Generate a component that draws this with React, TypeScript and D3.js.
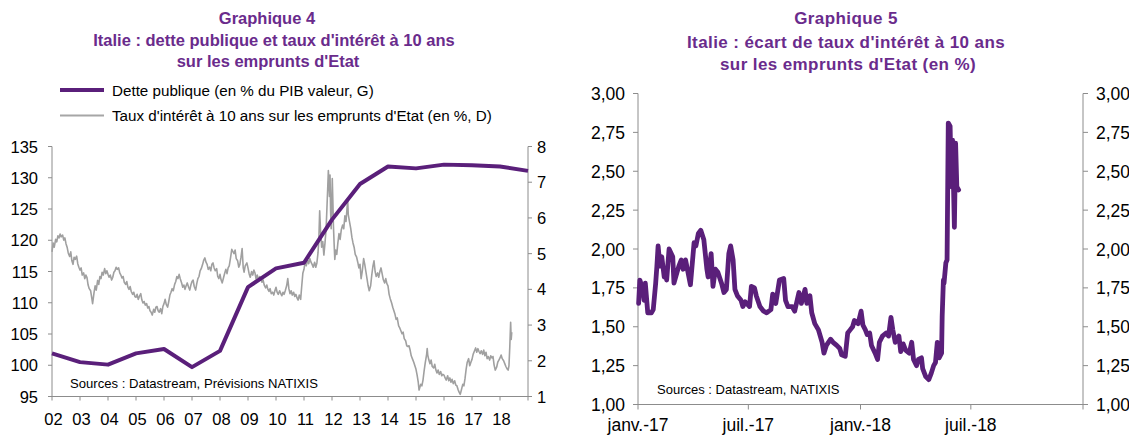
import React from 'react';
import * as d3 from 'd3';

// Graphique 4 : dette publique (G) et taux 10 ans (D)
const debtYears = [2002, 2003, 2004, 2005, 2006, 2007, 2008, 2009, 2010, 2011, 2012, 2013, 2014, 2015, 2016, 2017, 2018, 2019];
const debtValues = [101.9, 100.5, 100.1, 101.9, 102.6, 99.7, 102.3, 112.5, 115.5, 116.4, 123.3, 129.0, 131.8, 131.5, 132.1, 132.0, 131.8, 131.1];

// [année décimale, taux %]
const rateObs: [number, number][] = [
  [2002.00, 5.05], [2002.04, 5.30], [2002.08, 5.18], [2002.13, 5.40], [2002.17, 5.33], [2002.21, 5.50],
  [2002.25, 5.44], [2002.29, 5.55], [2002.33, 5.47], [2002.38, 5.52], [2002.42, 5.38], [2002.46, 5.44],
  [2002.50, 5.28], [2002.54, 5.18], [2002.58, 5.02], [2002.63, 4.92], [2002.67, 5.05], [2002.71, 4.80],
  [2002.75, 4.70], [2002.79, 4.90], [2002.83, 4.84], [2002.88, 4.93], [2002.92, 4.72], [2002.96, 4.62],
  [2003.00, 4.54], [2003.04, 4.60], [2003.08, 4.40], [2003.13, 4.46], [2003.17, 4.30], [2003.21, 4.40],
  [2003.25, 4.33], [2003.29, 4.12], [2003.33, 4.02], [2003.38, 3.96], [2003.42, 3.76], [2003.45, 3.60],
  [2003.50, 3.90], [2003.54, 4.10], [2003.58, 3.98], [2003.63, 4.25], [2003.67, 4.14], [2003.71, 4.36],
  [2003.75, 4.30], [2003.79, 4.48], [2003.83, 4.40], [2003.88, 4.58], [2003.92, 4.44], [2003.96, 4.52],
  [2004.00, 4.42], [2004.04, 4.34], [2004.08, 4.40], [2004.13, 4.26], [2004.17, 4.34], [2004.21, 4.48],
  [2004.25, 4.52], [2004.29, 4.62], [2004.33, 4.56], [2004.38, 4.60], [2004.42, 4.46], [2004.46, 4.40],
  [2004.50, 4.32], [2004.54, 4.36], [2004.58, 4.20], [2004.63, 4.14], [2004.67, 4.22], [2004.71, 4.06],
  [2004.75, 4.00], [2004.79, 4.08], [2004.83, 3.94], [2004.88, 3.86], [2004.92, 3.92], [2004.96, 3.80],
  [2005.00, 3.78], [2005.04, 3.86], [2005.08, 3.72], [2005.13, 3.82], [2005.17, 3.88], [2005.21, 3.70],
  [2005.25, 3.62], [2005.29, 3.66], [2005.33, 3.56], [2005.38, 3.60], [2005.42, 3.48], [2005.46, 3.52],
  [2005.50, 3.40], [2005.54, 3.36], [2005.58, 3.28], [2005.63, 3.44], [2005.67, 3.36], [2005.71, 3.50],
  [2005.75, 3.52], [2005.79, 3.40], [2005.83, 3.36], [2005.88, 3.46], [2005.92, 3.32], [2005.96, 3.52],
  [2006.00, 3.60], [2006.04, 3.72], [2006.08, 3.58], [2006.13, 3.50], [2006.17, 3.66], [2006.21, 3.84],
  [2006.25, 3.92], [2006.29, 4.02], [2006.33, 3.96], [2006.38, 4.14], [2006.42, 4.22], [2006.46, 4.36],
  [2006.50, 4.30], [2006.54, 4.42], [2006.58, 4.30], [2006.63, 4.18], [2006.67, 4.06], [2006.71, 4.12],
  [2006.75, 4.00], [2006.79, 4.10], [2006.83, 4.18], [2006.88, 4.06], [2006.92, 3.98], [2006.96, 4.12],
  [2007.00, 4.22], [2007.04, 4.26], [2007.08, 4.08], [2007.13, 3.98], [2007.17, 4.16], [2007.21, 4.30],
  [2007.25, 4.36], [2007.29, 4.52], [2007.33, 4.58], [2007.38, 4.70], [2007.42, 4.82], [2007.46, 4.88],
  [2007.50, 4.76], [2007.54, 4.70], [2007.58, 4.56], [2007.63, 4.62], [2007.67, 4.52], [2007.71, 4.70],
  [2007.75, 4.74], [2007.79, 4.60], [2007.83, 4.52], [2007.88, 4.58], [2007.92, 4.36], [2007.96, 4.30],
  [2008.00, 4.42], [2008.04, 4.26], [2008.08, 4.18], [2008.13, 4.34], [2008.17, 4.46], [2008.21, 4.56],
  [2008.25, 4.44], [2008.29, 4.60], [2008.33, 4.66], [2008.38, 4.90], [2008.42, 5.12], [2008.46, 5.06],
  [2008.50, 5.00], [2008.54, 5.10], [2008.58, 4.86], [2008.63, 4.80], [2008.67, 4.62], [2008.71, 4.70],
  [2008.75, 4.90], [2008.79, 5.14], [2008.83, 4.60], [2008.86, 4.48], [2008.90, 4.66], [2008.96, 4.74],
  [2009.00, 4.60], [2009.04, 4.44], [2009.08, 4.34], [2009.13, 4.50], [2009.17, 4.40], [2009.21, 4.54],
  [2009.25, 4.46], [2009.29, 4.28], [2009.33, 4.40], [2009.38, 4.26], [2009.42, 4.36], [2009.46, 4.30],
  [2009.50, 4.20], [2009.54, 4.26], [2009.58, 4.12], [2009.63, 4.04], [2009.67, 4.12], [2009.71, 4.00],
  [2009.75, 3.94], [2009.79, 4.02], [2009.83, 3.88], [2009.88, 3.92], [2009.92, 3.84], [2009.96, 3.96],
  [2010.00, 4.06], [2010.04, 3.92], [2010.08, 3.86], [2010.13, 3.96], [2010.17, 3.88], [2010.21, 3.82],
  [2010.25, 3.92], [2010.29, 3.86], [2010.33, 3.96], [2010.38, 4.10], [2010.42, 4.30], [2010.46, 4.02],
  [2010.50, 3.88], [2010.54, 3.96], [2010.58, 3.84], [2010.63, 3.92], [2010.67, 3.80], [2010.71, 3.86],
  [2010.75, 3.76], [2010.79, 3.70], [2010.83, 3.84], [2010.88, 3.72], [2010.92, 4.10], [2010.96, 4.46],
  [2011.00, 4.56], [2011.04, 4.78], [2011.08, 4.66], [2011.13, 4.82], [2011.17, 4.72], [2011.21, 4.86],
  [2011.25, 4.76], [2011.29, 4.70], [2011.33, 4.62], [2011.38, 4.76], [2011.42, 4.62], [2011.46, 4.74],
  [2011.50, 5.02], [2011.53, 5.40], [2011.56, 6.20], [2011.59, 5.66], [2011.63, 5.18], [2011.67, 5.34],
  [2011.71, 4.96], [2011.75, 5.30], [2011.79, 5.70], [2011.82, 6.30], [2011.85, 6.90], [2011.87, 7.33],
  [2011.89, 7.00], [2011.91, 6.60], [2011.93, 7.20], [2011.95, 6.20], [2011.97, 5.70], [2011.99, 6.40],
  [2012.01, 7.10], [2012.03, 6.50], [2012.05, 5.80], [2012.08, 5.20], [2012.10, 4.84], [2012.13, 5.10],
  [2012.17, 4.98], [2012.21, 5.30], [2012.25, 5.56], [2012.29, 5.40], [2012.33, 5.66], [2012.38, 5.80],
  [2012.42, 5.70], [2012.46, 6.06], [2012.50, 5.90], [2012.54, 6.30], [2012.56, 6.52], [2012.58, 6.10],
  [2012.62, 5.92], [2012.67, 5.70], [2012.71, 5.46], [2012.75, 5.30], [2012.79, 5.18], [2012.83, 4.98],
  [2012.88, 4.90], [2012.92, 4.76], [2012.96, 4.60], [2013.00, 4.70], [2013.04, 4.30], [2013.08, 4.50],
  [2013.13, 4.86], [2013.17, 4.70], [2013.21, 4.50], [2013.25, 4.30], [2013.29, 4.10], [2013.33, 3.96],
  [2013.38, 4.10], [2013.42, 4.40], [2013.46, 4.64], [2013.50, 4.80], [2013.54, 4.50], [2013.58, 4.36],
  [2013.63, 4.46], [2013.67, 4.34], [2013.71, 4.50], [2013.75, 4.60], [2013.79, 4.44], [2013.83, 4.28],
  [2013.88, 4.18], [2013.92, 4.30], [2013.96, 4.16], [2014.00, 4.10], [2014.04, 3.86], [2014.08, 3.74],
  [2014.13, 3.62], [2014.17, 3.50], [2014.21, 3.40], [2014.25, 3.30], [2014.29, 3.16], [2014.33, 3.20],
  [2014.38, 2.98], [2014.42, 2.92], [2014.46, 2.84], [2014.50, 2.76], [2014.54, 2.80], [2014.58, 2.62],
  [2014.63, 2.56], [2014.67, 2.42], [2014.71, 2.40], [2014.75, 2.42], [2014.79, 2.30], [2014.83, 2.14],
  [2014.88, 2.04], [2014.92, 1.96], [2014.96, 1.86], [2015.00, 1.76], [2015.04, 1.60], [2015.08, 1.40],
  [2015.11, 1.18], [2015.13, 1.24], [2015.17, 1.34], [2015.21, 1.30], [2015.25, 1.46], [2015.29, 1.72],
  [2015.33, 1.94], [2015.38, 2.18], [2015.40, 2.34], [2015.42, 2.16], [2015.46, 2.02], [2015.50, 1.92],
  [2015.54, 2.02], [2015.58, 1.84], [2015.63, 1.80], [2015.67, 1.90], [2015.71, 1.74], [2015.75, 1.66],
  [2015.79, 1.74], [2015.83, 1.62], [2015.88, 1.70], [2015.92, 1.58], [2015.96, 1.62], [2016.00, 1.60],
  [2016.04, 1.52], [2016.08, 1.46], [2016.13, 1.58], [2016.17, 1.44], [2016.21, 1.52], [2016.25, 1.40],
  [2016.29, 1.48], [2016.33, 1.36], [2016.38, 1.44], [2016.42, 1.32], [2016.46, 1.30], [2016.50, 1.20],
  [2016.54, 1.12], [2016.58, 1.06], [2016.62, 1.18], [2016.67, 1.34], [2016.71, 1.30], [2016.75, 1.50],
  [2016.79, 1.76], [2016.83, 1.96], [2016.88, 2.06], [2016.92, 1.86], [2016.96, 1.96], [2017.00, 2.04],
  [2017.04, 2.18], [2017.08, 2.26], [2017.13, 2.36], [2017.17, 2.24], [2017.21, 2.34], [2017.25, 2.26],
  [2017.29, 2.20], [2017.33, 2.28], [2017.38, 2.18], [2017.42, 2.30], [2017.46, 2.14], [2017.50, 2.24],
  [2017.54, 2.06], [2017.58, 2.12], [2017.63, 2.02], [2017.67, 2.14], [2017.71, 2.08], [2017.75, 2.12],
  [2017.79, 1.88], [2017.83, 1.74], [2017.88, 1.82], [2017.92, 1.96], [2017.96, 2.02], [2018.00, 2.08],
  [2018.04, 2.16], [2018.08, 2.06], [2018.13, 2.00], [2018.17, 1.92], [2018.21, 1.84], [2018.25, 1.78],
  [2018.29, 1.74], [2018.32, 1.86], [2018.35, 2.40], [2018.38, 3.08], [2018.40, 2.60], [2018.42, 2.80],
];

const leftTicks = [95, 100, 105, 110, 115, 120, 125, 130, 135];
const rightTicks = [1, 2, 3, 4, 5, 6, 7, 8];
const yearTicks = [2002, 2003, 2004, 2005, 2006, 2007, 2008, 2009, 2010, 2011, 2012, 2013, 2014, 2015, 2016, 2017, 2018, 2019];
const yearLabels = ['02', '03', '04', '05', '06', '07', '08', '09', '10', '11', '12', '13', '14', '15', '16', '17', '18'];

// Graphique 5 : écart de taux 10 ans
const spreadObs: [string, number][] = [
  ['2017-01-02', 1.65], ['2017-01-04', 1.80], ['2017-01-09', 1.74], ['2017-01-11', 1.67], ['2017-01-13', 1.78],
  ['2017-01-17', 1.59], ['2017-01-23', 1.59], ['2017-01-26', 1.61], ['2017-01-30', 1.78], ['2017-02-01', 1.89],
  ['2017-02-03', 2.02], ['2017-02-06', 1.89], ['2017-02-09', 1.95], ['2017-02-13', 1.82], ['2017-02-15', 1.87],
  ['2017-02-17', 1.80], ['2017-02-21', 2.00], ['2017-02-27', 1.95], ['2017-03-01', 1.78], ['2017-03-06', 1.85],
  ['2017-03-09', 1.89], ['2017-03-13', 1.93], ['2017-03-16', 1.87], ['2017-03-20', 1.93], ['2017-03-24', 1.85],
  ['2017-03-28', 1.77], ['2017-04-03', 2.04], ['2017-04-06', 2.02], ['2017-04-10', 2.10], ['2017-04-14', 2.12],
  ['2017-04-19', 2.06], ['2017-04-24', 1.87], ['2017-04-26', 1.82], ['2017-05-01', 1.97], ['2017-05-04', 1.76],
  ['2017-05-08', 1.87], ['2017-05-12', 1.85], ['2017-05-18', 1.78], ['2017-05-22', 1.72], ['2017-05-26', 1.74],
  ['2017-05-30', 1.97], ['2017-06-02', 2.02], ['2017-06-06', 1.93], ['2017-06-09', 1.74], ['2017-06-13', 1.70],
  ['2017-06-19', 1.67], ['2017-06-22', 1.63], ['2017-06-26', 1.66], ['2017-07-03', 1.63], ['2017-07-06', 1.76],
  ['2017-07-11', 1.75], ['2017-07-14', 1.70], ['2017-07-20', 1.63], ['2017-07-26', 1.60], ['2017-07-31', 1.59],
  ['2017-08-07', 1.61], ['2017-08-10', 1.71], ['2017-08-15', 1.65], ['2017-08-21', 1.80], ['2017-08-28', 1.81],
  ['2017-08-31', 1.67], ['2017-09-04', 1.63], ['2017-09-11', 1.63], ['2017-09-15', 1.60], ['2017-09-22', 1.72],
  ['2017-09-26', 1.65], ['2017-10-02', 1.74], ['2017-10-05', 1.65], ['2017-10-10', 1.70], ['2017-10-13', 1.59],
  ['2017-10-18', 1.52], ['2017-10-24', 1.48], ['2017-10-30', 1.40], ['2017-11-02', 1.33], ['2017-11-06', 1.38],
  ['2017-11-13', 1.42], ['2017-11-17', 1.40], ['2017-11-23', 1.38], ['2017-11-28', 1.36], ['2017-12-01', 1.32],
  ['2017-12-07', 1.31], ['2017-12-11', 1.46], ['2017-12-15', 1.48], ['2017-12-19', 1.50], ['2017-12-22', 1.54],
  ['2017-12-28', 1.52], ['2018-01-02', 1.60], ['2018-01-05', 1.51], ['2018-01-09', 1.48], ['2018-01-12', 1.45],
  ['2018-01-16', 1.46], ['2018-01-19', 1.38], ['2018-01-25', 1.33], ['2018-01-29', 1.29], ['2018-02-01', 1.40],
  ['2018-02-06', 1.44], ['2018-02-12', 1.46], ['2018-02-16', 1.44], ['2018-02-20', 1.56], ['2018-02-23', 1.48],
  ['2018-02-27', 1.40], ['2018-03-05', 1.44], ['2018-03-08', 1.34], ['2018-03-12', 1.39], ['2018-03-16', 1.35],
  ['2018-03-22', 1.33], ['2018-03-26', 1.40], ['2018-03-29', 1.29], ['2018-04-03', 1.25], ['2018-04-06', 1.29],
  ['2018-04-11', 1.30], ['2018-04-13', 1.23], ['2018-04-18', 1.18], ['2018-04-23', 1.16], ['2018-04-27', 1.20],
  ['2018-05-01', 1.25], ['2018-05-04', 1.27], ['2018-05-07', 1.40], ['2018-05-10', 1.30], ['2018-05-14', 1.33],
  ['2018-05-15', 1.57], ['2018-05-17', 1.80], ['2018-05-18', 1.78], ['2018-05-21', 1.91], ['2018-05-23', 1.93],
  ['2018-05-25', 2.81], ['2018-05-28', 2.79], ['2018-05-30', 2.40], ['2018-06-01', 2.70], ['2018-06-04', 2.14],
  ['2018-06-05', 2.40], ['2018-06-06', 2.68], ['2018-06-08', 2.40], ['2018-06-11', 2.38],
];

const spreadTicks = [1, 1.25, 1.5, 1.75, 2, 2.25, 2.5, 2.75, 3];
const monthTicks = ['2017-01-01', '2017-07-01', '2018-01-01', '2018-07-01', '2019-01-01'];
const monthLabels = ['janv.-17', 'juil.-17', 'janv.-18', 'juil.-18'];

const purple = '#5a1f7a';
const titleColor = '#6a2b8c';
const axisColor = '#8c8c8c';
const font = '"Liberation Sans", Arial, sans-serif';

const fmt = (v: number) => v.toFixed(2).replace('.', ',');

const App = () => {
  // left chart
  let x1 = d3.scaleLinear().domain([2002, 2019]).range([52, 528]);
  let yL = d3.scaleLinear().domain([95, 135]).range([396.5, 146.5]);
  let yR = d3.scaleLinear().domain([1, 8]).range([396.5, 146.5]);

  let debtLine = d3.line<number>()
    .x((d, i) => x1(debtYears[i]))
    .y((d) => yL(d));
  let rateLine = d3.line<[number, number]>()
    .x((d) => x1(d[0]))
    .y((d) => yR(d[1]));

  // right chart
  let parse = d3.utcParse('%Y-%m-%d');
  let x2 = d3.scaleUtc().domain([parse('2017-01-01')!, parse('2019-01-01')!]).range([638, 1083]);
  let y2 = d3.scaleLinear().domain([1, 3]).range([404.5, 93.5]);
  let spreadLine = d3.line<[string, number]>()
    .x((d) => x2(parse(d[0])!))
    .y((d) => y2(d[1]));

  return (
    <div>
      <svg width={1129} height={435} style={{ position: 'absolute', left: 0, top: 0 }} fontFamily={font}>
        <rect width={1129} height={435} fill='#fff' />

        {/* ---- Graphique 4 ---- */}
        <g fill={titleColor} fontWeight='bold' fontSize={16.5} textAnchor='middle'>
          <text x={267} y={24}>Graphique 4</text>
          <text x={274} y={46}>Italie : dette publique et taux d'intérêt à 10 ans</text>
          <text x={268} y={67}>sur les emprunts d'Etat</text>
        </g>

        <g fontSize={15.2} fill='#000'>
          <line x1={60} x2={104} y1={90} y2={90} stroke={purple} strokeWidth={4} />
          <text x={112} y={95.5}>Dette publique (en % du PIB valeur, G)</text>
          <line x1={60} x2={104} y1={115.5} y2={115.5} stroke='#a6a6a6' strokeWidth={2} />
          <text x={112} y={121}>Taux d'intérêt à 10 ans sur les emprunts d'Etat (en %, D)</text>
        </g>

        <g stroke={axisColor} strokeWidth={1} fill='none'>
          <line x1={x1(2002)} x2={x1(2002)} y1={yL(135)} y2={yL(95)} />
          <line x1={x1(2019)} x2={x1(2019)} y1={yR(8)} y2={yR(1)} />
          <line x1={x1(2002)} x2={x1(2019)} y1={yL(95)} y2={yL(95)} />
          {leftTicks.map((t) => (
            <line key={'lt' + t} x1={x1(2002) - 4} x2={x1(2002)} y1={yL(t)} y2={yL(t)} />
          ))}
          {rightTicks.map((t) => (
            <line key={'rt' + t} x1={x1(2019)} x2={x1(2019) + 4} y1={yR(t)} y2={yR(t)} />
          ))}
          {yearTicks.map((t) => (
            <line key={'xt' + t} x1={x1(t)} x2={x1(t)} y1={yL(95)} y2={yL(95) + 4} />
          ))}
        </g>

        <g fontSize={16.5} fill='#000'>
          {leftTicks.map((t) => (
            <text key={'ll' + t} x={38} y={yL(t) + 6} textAnchor='end'>{t}</text>
          ))}
          {rightTicks.map((t) => (
            <text key={'rl' + t} x={537} y={yR(t) + 6}>{t}</text>
          ))}
          {yearLabels.map((l, i) => (
            <text key={'xl' + l} x={x1(yearTicks[i]) + 1.5} y={425} textAnchor='middle'>{l}</text>
          ))}
        </g>

        <path d={rateLine(rateObs) ?? ''} fill='none' stroke='#a0a0a0' strokeWidth={1.6} strokeLinejoin='round' />
        <path d={debtLine(debtValues) ?? ''} fill='none' stroke={purple} strokeWidth={4} strokeLinejoin='round' />

        <text x={70} y={388} fontSize={13.1} fill='#000'>Sources : Datastream, Prévisions NATIXIS</text>

        {/* ---- Graphique 5 ---- */}
        <g fill={titleColor} fontWeight='bold' fontSize={17} textAnchor='middle' letterSpacing={0.4}>
          <text x={846} y={24}>Graphique 5</text>
          <text x={846} y={48}>Italie : écart de taux d'intérêt à 10 ans</text>
          <text x={848} y={70}>sur les emprunts d'Etat (en %)</text>
        </g>

        <g stroke={axisColor} strokeWidth={1} fill='none'>
          <line x1={x2.range()[0]} x2={x2.range()[0]} y1={y2(3)} y2={y2(1)} />
          <line x1={x2.range()[1]} x2={x2.range()[1]} y1={y2(3)} y2={y2(1)} />
          <line x1={x2.range()[0]} x2={x2.range()[1]} y1={y2(1)} y2={y2(1)} />
          {spreadTicks.map((t) => (
            <line key={'sl' + t} x1={x2.range()[0] - 5} x2={x2.range()[0]} y1={y2(t)} y2={y2(t)} />
          ))}
          {spreadTicks.map((t) => (
            <line key={'sr' + t} x1={x2.range()[1]} x2={x2.range()[1] + 5} y1={y2(t)} y2={y2(t)} />
          ))}
          {monthTicks.map((t) => (
            <line key={'mt' + t} x1={x2(parse(t)!)} x2={x2(parse(t)!)} y1={y2(1)} y2={y2(1) + 5} />
          ))}
        </g>

        <g fontSize={17.5} fill='#000'>
          {spreadTicks.map((t) => (
            <text key={'sll' + t} x={625} y={y2(t) + 6.5} textAnchor='end'>{fmt(t)}</text>
          ))}
          {spreadTicks.map((t) => (
            <text key={'srl' + t} x={1096} y={y2(t) + 6.5}>{fmt(t)}</text>
          ))}
          {monthLabels.map((l, i) => (
            <text key={'ml' + l} x={x2(parse(monthTicks[i])!)} y={431} textAnchor='middle'>{l}</text>
          ))}
        </g>

        <path d={spreadLine(spreadObs) ?? ''} fill='none' stroke={purple} strokeWidth={4.8} strokeLinejoin='round' strokeLinecap='round' />

        <text x={657} y={394} fontSize={13} fill='#000'>Sources  : Datastream,  NATIXIS</text>
      </svg>
    </div>
  );
};

export default App;
